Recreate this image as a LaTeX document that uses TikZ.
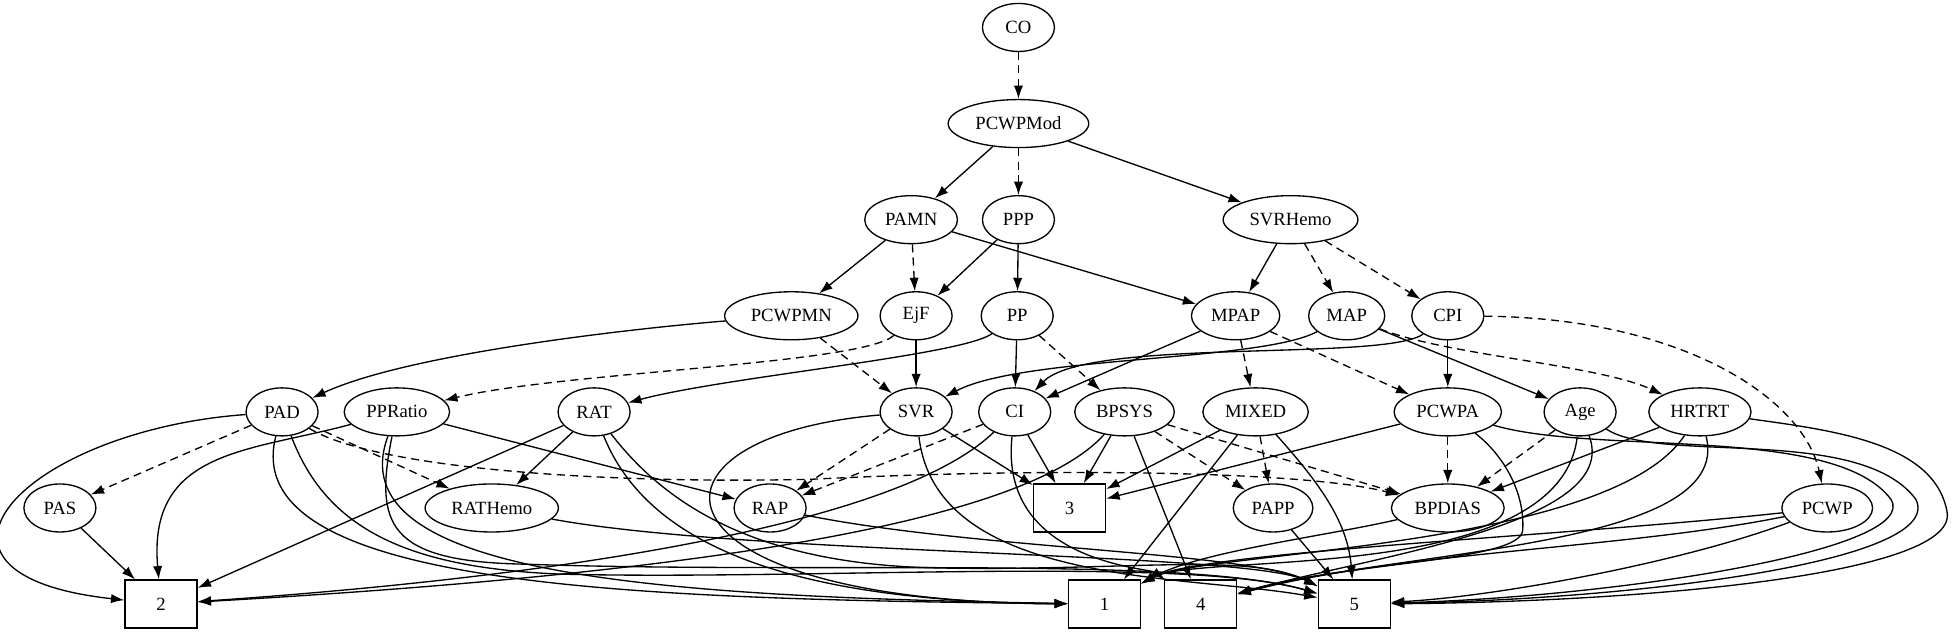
\documentclass[tikz,border=0pt]{standalone}
\usepackage{fontspec}
\setmainfont{Liberation Serif}
\usetikzlibrary{arrows.meta,shapes.geometric}

\begin{document}
\begin{tikzpicture}[x=0.936pt, y=-0.936pt,
		every node/.style={font=\fontsize{14pt}{16pt}\selectfont},
		var/.style={ellipse, draw, line width=1pt, minimum width=54pt, minimum height=36pt, inner xsep=5pt, inner ysep=2pt},
		cls/.style={rectangle, draw, line width=1pt, minimum width=54pt, minimum height=36pt},
		dep/.style={line width=1pt, -{Latex[length=10pt,width=7pt]}},
		dsh/.style={dep, dash pattern=on 6pt off 4pt}]
	\useasboundingbox (0,0) rectangle (1568,509);
	% variables
	\node [var] (CO) at (816,22) {CO};
	\node [var] (PCWPMod) at (816,99) {PCWPMod};
	\node [var] (PAMN) at (730,176) {PAMN};
	\node [var] (PPP) at (816,176) {PPP};
	\node [var] (SVRHemo) at (1034,176) {SVRHemo};
	\node [var] (PCWPMN) at (634,253) {PCWPMN};
	\node [var] (EjF) at (734,253) {EjF};
	\node [var] (PP) at (815,253) {PP};
	\node [var] (MPAP) at (990,253) {MPAP};
	\node [var] (MAP) at (1079,253) {MAP};
	\node [var] (CPI) at (1160,253) {CPI};
	\node [var] (PAD) at (226,330) {PAD};
	\node [var] (PPRatio) at (318,330) {PPRatio};
	\node [var] (RAT) at (476,330) {RAT};
	\node [var] (SVR) at (734,330) {SVR};
	\node [var] (CI) at (813,330) {CI};
	\node [var] (BPSYS) at (901,330) {BPSYS};
	\node [var] (MIXED) at (1006,330) {MIXED};
	\node [var] (PCWPA) at (1160,330) {PCWPA};
	\node [var] (Age) at (1266,330) {Age};
	\node [var] (HRTRT) at (1362,330) {HRTRT};
	\node [var] (PAS) at (48,407) {PAS};
	\node [var] (RATHemo) at (394,407) {RATHemo};
	\node [var] (RAP) at (617,407) {RAP};
	\node [var] (PAPP) at (1020,407) {PAPP};
	\node [var] (BPDIAS) at (1160,407) {BPDIAS};
	\node [var] (PCWP) at (1464,407) {PCWP};
	% classes
	\node [cls] (b3) at (857,407) {3};
	\node [cls] (b2) at (129,484) {2};
	\node [cls] (b1) at (885,484) {1};
	\node [cls] (b4) at (962,484) {4};
	\node [cls] (b5) at (1085,484) {5};

	% upper part
	\draw [dsh] (CO) -- (PCWPMod);
	\draw [dep] (PCWPMod) -- (PAMN);
	\draw [dsh] (PCWPMod) -- (PPP);
	\draw [dep] (PCWPMod) -- (SVRHemo);
	\draw [dep] (PAMN) -- (PCWPMN);
	\draw [dsh] (PAMN) -- (EjF);
	\draw [dep] (PAMN) -- (MPAP);
	\draw [dep] (PPP) -- (EjF);
	\draw [dep] (PPP) -- (PP);
	\draw [dep] (SVRHemo) -- (MPAP);
	\draw [dsh] (SVRHemo) -- (MAP);
	\draw [dsh] (SVRHemo) -- (CPI);
	\draw [dep] (PCWPMN) .. controls (520,262) and (330,282) .. (PAD);
	\draw [dsh] (PCWPMN) -- (SVR);
	\draw [dsh] (EjF) .. controls (690,292) and (450,298) .. (PPRatio);
	\draw [dep] (EjF) -- (SVR);
	\draw [dep] (PP) .. controls (770,285) and (580,302) .. (RAT);
	\draw [dep] (PP) -- (CI);
	\draw [dsh] (PP) -- (BPSYS);
	\draw [dep] (MPAP) -- (CI);
	\draw [dsh] (MPAP) -- (MIXED);
	\draw [dsh] (MPAP) -- (PCWPA);
	\draw [dep] (MAP) .. controls (1010,290) and (820,285) .. (SVR);
	\draw [dep] (CPI) .. controls (1110,290) and (870,270) .. (CI);
	\draw [dep] (MAP) -- (Age);
	\draw [dsh] (MAP) .. controls (1160,285) and (1280,292) .. (HRTRT);
	\draw [dep] (CPI) -- (PCWPA);
	\draw [dsh] (CPI) .. controls (1350,255) and (1445,320) .. (PCWP);

	% left part
	\draw [dsh] (PAD) -- (PAS);
	\draw [dep] (PAS) -- (b2);
	\draw [dep] (PAD) .. controls (20,345) and (-90,460) .. (b2);
	\draw [dep] (PAD) .. controls (190,470) and (500,480) .. (b1);
	\draw [dep] (PAD) .. controls (260,420) and (320,455) .. (450,460) .. controls (650,465) and (950,445) .. (b5);
	\draw [dsh] (PAD) -- (RATHemo);
	\draw [dsh] (PAD) .. controls (300,375) and (480,388) .. (650,384) .. controls (850,374) and (1050,378) .. (BPDIAS);
	\draw [dep] (PPRatio) .. controls (200,362) and (118,360) .. (b2);
	\draw [dep] (PPRatio) -- (RAP);
	\draw [dep] (PPRatio) .. controls (270,460) and (520,478) .. (b1);
	\draw [dep] (PPRatio) .. controls (300,420) and (310,450) .. (420,452) .. controls (650,460) and (950,445) .. (b5);
	\draw [dep] (RAT) -- (RATHemo);
	\draw [dep] (RAT) -- (b2);
	\draw [dep] (RAT) .. controls (520,440) and (640,482) .. (b1);
	\draw [dep] (RAT) .. controls (530,400) and (600,452) .. (750,455) .. controls (900,458) and (1000,442) .. (b5);
	\draw [dep] (RATHemo) .. controls (600,445) and (1000,442) .. (b5);
	\draw [dep] (RAP) .. controls (780,440) and (1000,442) .. (b5);

	% middle part
	\draw [dsh] (SVR) -- (RAP);
	\draw [dep] (SVR) -- (b3);
	\draw [dep] (SVR) .. controls (500,350) and (510,482) .. (b1);
	\draw [dep] (SVR) .. controls (750,470) and (950,460) .. (b5);
	\draw [dsh] (CI) -- (RAP);
	\draw [dep] (CI) -- (b3);
	\draw [dep] (CI) .. controls (720,420) and (450,462) .. (b2);
	\draw [dep] (CI) .. controls (800,450) and (920,455) .. (b4);
	\draw [dep] (BPSYS) -- (b3);
	\draw [dep] (BPSYS) -- (b4);
	\draw [dsh] (BPSYS) -- (PAPP);
	\draw [dsh] (BPSYS) -- (BPDIAS);
	\draw [dep] (BPSYS) .. controls (820,420) and (550,460) .. (b2);
	\draw [dep] (MIXED) -- (b3);
	\draw [dep] (MIXED) -- (b1);
	\draw [dsh] (MIXED) -- (PAPP);
	\draw [dep] (MIXED) .. controls (1060,390) and (1080,420) .. (b5);
	\draw [dep] (PAPP) -- (b5);

	% right part
	\draw [dep] (PCWPA) -- (b3);
	\draw [dsh] (PCWPA) -- (BPDIAS);
	\draw [dep] (PCWPA) .. controls (1205,365) and (1222,395) .. (1220,425) .. controls (1218,450) and (1080,450) .. (b4);
	\draw [dep] (PCWPA) .. controls (1280,365) and (1470,340) .. (1515,400) .. controls (1540,440) and (1300,478) .. (b5);
	\draw [dsh] (Age) -- (BPDIAS);
	\draw [dep] (Age) .. controls (1250,470) and (960,442) .. (b1);
	\draw [dep] (Age) .. controls (1300,420) and (1100,445) .. (b4);
	\draw [dep] (Age) .. controls (1330,372) and (1490,340) .. (1535,400) .. controls (1560,450) and (1310,480) .. (b5);
	\draw [dep] (HRTRT) -- (BPDIAS);
	\draw [dep] (HRTRT) .. controls (1290,440) and (960,442) .. (b1);
	\draw [dep] (HRTRT) .. controls (1390,440) and (1120,440) .. (b4);
	\draw [dep] (HRTRT) .. controls (1470,345) and (1550,355) .. (1560,410) .. controls (1570,460) and (1320,482) .. (b5);
	\draw [dep] (BPDIAS) .. controls (1060,430) and (960,442) .. (b1);
	\draw [dep] (PCWP) .. controls (1250,430) and (960,442) .. (b1);
	\draw [dep] (PCWP) .. controls (1300,440) and (1120,442) .. (b4);
	\draw [dep] (PCWP) .. controls (1350,450) and (1200,478) .. (b5);
\end{tikzpicture}
\end{document}
